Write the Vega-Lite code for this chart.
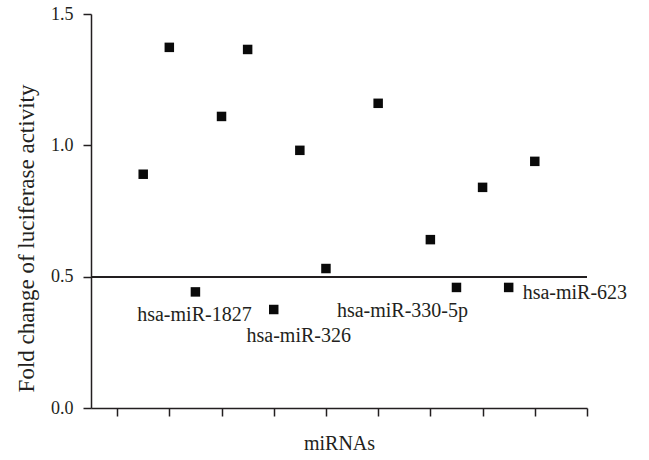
{
  "$schema": "https://vega.github.io/schema/vega-lite/v6.json",
  "autosize": "none",
  "width": 496,
  "height": 394,
  "padding": {"left": 91, "top": 14, "right": 62, "bottom": 52},
  "background": "white",
  "config": {
    "view": {"stroke": null},
    "font": "Liberation Serif",
    "text": {"font": "Liberation Serif", "fontSize": 20, "color": "#231f20"}
  },
  "data": {
    "values": [
      {"mirna": "miRNA 1", "pos": 2, "fold": 0.89},
      {"mirna": "miRNA 2", "pos": 3, "fold": 1.373},
      {"mirna": "hsa-miR-1827", "pos": 4, "fold": 0.442},
      {"mirna": "miRNA 4", "pos": 5, "fold": 1.11},
      {"mirna": "miRNA 5", "pos": 6, "fold": 1.365},
      {"mirna": "hsa-miR-326", "pos": 7, "fold": 0.375},
      {"mirna": "miRNA 7", "pos": 8, "fold": 0.981},
      {"mirna": "miRNA 8", "pos": 9, "fold": 0.531},
      {"mirna": "miRNA 9", "pos": 11, "fold": 1.16},
      {"mirna": "miRNA 10", "pos": 13, "fold": 0.641},
      {"mirna": "hsa-miR-330-5p", "pos": 14, "fold": 0.459},
      {"mirna": "miRNA 12", "pos": 15, "fold": 0.84},
      {"mirna": "hsa-miR-623", "pos": 16, "fold": 0.459},
      {"mirna": "miRNA 14", "pos": 17, "fold": 0.939}
    ]
  },
  "encoding": {
    "x": {
      "field": "pos",
      "type": "quantitative",
      "scale": {"domain": [0, 19], "nice": false, "zero": false},
      "axis": {
        "title": "miRNAs",
        "values": [1, 3, 5, 7, 9, 11, 13, 15, 17, 19],
        "labels": false,
        "grid": false,
        "domainColor": "#231f20",
        "domainWidth": 1.5,
        "tickColor": "#231f20",
        "tickWidth": 1.5,
        "tickSize": 8,
        "titleFont": "Liberation Serif",
        "titleFontSize": 20,
        "titleFontWeight": "normal",
        "titleColor": "#231f20",
        "titleBaseline": "alphabetic",
        "titleY": 41
      }
    },
    "y": {
      "field": "fold",
      "type": "quantitative",
      "scale": {"domain": [0, 1.5], "nice": false},
      "axis": {
        "title": "Fold change of luciferase activity",
        "values": [0, 0.5, 1, 1.5],
        "format": ".1f",
        "grid": false,
        "domainColor": "#231f20",
        "domainWidth": 1.5,
        "tickColor": "#231f20",
        "tickWidth": 1.5,
        "tickSize": 8,
        "labelFont": "Liberation Serif",
        "labelFontSize": 18,
        "labelColor": "#231f20",
        "labelPadding": 10,
        "titleFont": "Liberation Serif",
        "titleFontSize": 23,
        "titleFontWeight": "normal",
        "titleColor": "#231f20",
        "titleAngle": -90,
        "titleAlign": "center",
        "titleBaseline": "alphabetic",
        "titleX": -58,
        "titleY": 224
      }
    }
  },
  "layer": [
    {
      "mark": {"type": "rule", "color": "#231f20", "strokeWidth": 1.5},
      "encoding": {"y": {"datum": 0.5}, "x": {"datum": 0}, "x2": {"datum": 19}}
    },
    {
      "mark": {"type": "point", "shape": "square", "filled": true, "size": 90, "color": "#0a0a0a", "opacity": 1}
    },
    {
      "transform": [{"filter": "datum.mirna === 'hsa-miR-1827'"}],
      "mark": {"type": "text", "align": "center", "baseline": "alphabetic", "dx": -1, "dy": 29},
      "encoding": {"text": {"field": "mirna"}}
    },
    {
      "transform": [{"filter": "datum.mirna === 'hsa-miR-326'"}],
      "mark": {"type": "text", "align": "center", "baseline": "alphabetic", "dx": 25, "dy": 32},
      "encoding": {"text": {"field": "mirna"}}
    },
    {
      "transform": [{"filter": "datum.mirna === 'hsa-miR-330-5p'"}],
      "mark": {"type": "text", "align": "center", "baseline": "alphabetic", "dx": -54, "dy": 30},
      "encoding": {"text": {"field": "mirna"}}
    },
    {
      "transform": [{"filter": "datum.mirna === 'hsa-miR-623'"}],
      "mark": {"type": "text", "align": "left", "baseline": "alphabetic", "dx": 14, "dy": 12},
      "encoding": {"text": {"field": "mirna"}}
    }
  ]
}
